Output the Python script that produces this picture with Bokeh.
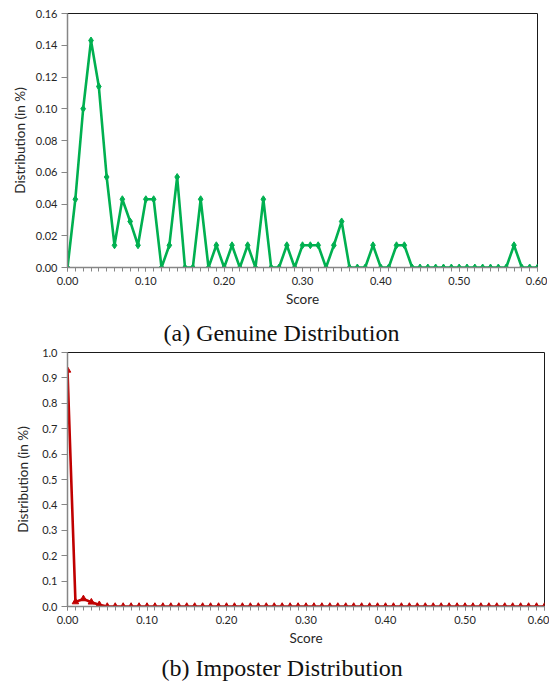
from bokeh.plotting import figure
from bokeh.layouts import column
from bokeh.models import Range1d, FixedTicker, PrintfTickFormatter, Title
from bokeh.embed import file_html
from bokeh.resources import INLINE

# ---- data -------------------------------------------------------------
score = [0.00, 0.01, 0.02, 0.03, 0.04, 0.05, 0.06, 0.07, 0.08, 0.09,
         0.10, 0.11, 0.12, 0.13, 0.14, 0.15, 0.16, 0.17, 0.18, 0.19,
         0.20, 0.21, 0.22, 0.23, 0.24, 0.25, 0.26, 0.27, 0.28, 0.29,
         0.30, 0.31, 0.32, 0.33, 0.34, 0.35, 0.36, 0.37, 0.38, 0.39,
         0.40, 0.41, 0.42, 0.43, 0.44, 0.45, 0.46, 0.47, 0.48, 0.49,
         0.50, 0.51, 0.52, 0.53, 0.54, 0.55, 0.56, 0.57, 0.58, 0.59,
         0.60]

genuine = [0.000, 0.043, 0.100, 0.143, 0.114, 0.057, 0.014, 0.043, 0.029, 0.014,
           0.043, 0.043, 0.000, 0.014, 0.057, 0.000, 0.000, 0.043, 0.000, 0.014,
           0.000, 0.014, 0.000, 0.014, 0.000, 0.043, 0.000, 0.000, 0.014, 0.000,
           0.014, 0.014, 0.014, 0.000, 0.014, 0.029, 0.000, 0.000, 0.000, 0.014,
           0.000, 0.000, 0.014, 0.014, 0.000, 0.000, 0.000, 0.000, 0.000, 0.000,
           0.000, 0.000, 0.000, 0.000, 0.000, 0.000, 0.000, 0.014, 0.000, 0.000,
           0.000]

imposter = [0.930, 0.018, 0.030, 0.017, 0.007, 0.000, 0.000, 0.000, 0.000, 0.000,
            0.000, 0.000, 0.000, 0.000, 0.000, 0.000, 0.000, 0.000, 0.000, 0.000,
            0.000, 0.000, 0.000, 0.000, 0.000, 0.000, 0.000, 0.000, 0.000, 0.000,
            0.000, 0.000, 0.000, 0.000, 0.000, 0.000, 0.000, 0.000, 0.000, 0.000,
            0.000, 0.000, 0.000, 0.000, 0.000, 0.000, 0.000, 0.000, 0.000, 0.000,
            0.000, 0.000, 0.000, 0.000, 0.000, 0.000, 0.000, 0.000, 0.000, 0.000,
            0.000]

x_major = [0.0, 0.1, 0.2, 0.3, 0.4, 0.5, 0.6]
y_ticks_a = [0.00, 0.02, 0.04, 0.06, 0.08, 0.10, 0.12, 0.14, 0.16]
y_ticks_b = [0.0, 0.1, 0.2, 0.3, 0.4, 0.5, 0.6, 0.7, 0.8, 0.9, 1.0]

caption_a = "(a) Genuine Distribution"
caption_b = "(b) Imposter Distribution"

FONT = "Lato"
SERIF = "Liberation Serif"
AXIS_GRAY = "#868686"
TEXT = "#262626"


def make_panel(y, y_ticks, y_max, y_fmt, color, marker, msize,
               left, fw, top, fh, bottom, right, y_lab_standoff):
    p = figure(frame_width=fw, frame_height=fh,
               min_border_left=left, min_border_right=right,
               min_border_top=top, min_border_bottom=bottom,
               x_range=Range1d(0, 0.6), y_range=Range1d(0, y_max),
               output_backend="svg", toolbar_location=None,
               background_fill_color="white", border_fill_color="white")
    p.grid.visible = False
    p.outline_line_color = "#1a1a1a"
    p.outline_line_width = 1

    p.line(score, y, color=color, line_width=2.6)
    p.scatter(score, y, marker=marker, size=msize, color=color)

    xa = p.xaxis[0]
    xa.ticker = FixedTicker(ticks=x_major, minor_ticks=score)
    xa.formatter = PrintfTickFormatter(format="%.2f")
    xa.axis_line_color = AXIS_GRAY
    xa.axis_line_width = 1.5
    xa.major_tick_line_color = AXIS_GRAY
    xa.minor_tick_line_color = AXIS_GRAY
    xa.major_tick_in = 0
    xa.major_tick_out = 4
    xa.minor_tick_in = 0
    xa.minor_tick_out = 4
    xa.major_label_standoff = 5
    xa.major_label_text_font = FONT
    xa.major_label_text_font_size = "11px"
    xa.major_label_text_color = TEXT
    xa.axis_label = "Score"
    xa.axis_label_text_font = FONT
    xa.axis_label_text_font_size = "13.5px"
    xa.axis_label_text_font_style = "normal"
    xa.axis_label_text_color = TEXT
    xa.axis_label_standoff = 3

    ya = p.yaxis[0]
    ya.ticker = FixedTicker(ticks=y_ticks, minor_ticks=[])
    ya.formatter = PrintfTickFormatter(format=y_fmt)
    ya.axis_line_color = AXIS_GRAY
    ya.axis_line_width = 1.5
    ya.major_tick_line_color = AXIS_GRAY
    ya.major_tick_in = 0
    ya.major_tick_out = 6
    ya.minor_tick_in = 0
    ya.minor_tick_out = 0
    ya.major_label_standoff = 4
    ya.major_label_text_font = FONT
    ya.major_label_text_font_size = "11px"
    ya.major_label_text_color = TEXT
    ya.axis_label = "Distribution (in %)"
    ya.axis_label_text_font = FONT
    ya.axis_label_text_font_size = "13.5px"
    ya.axis_label_text_font_style = "normal"
    ya.axis_label_text_color = TEXT
    ya.axis_label_standoff = y_lab_standoff
    return p


def caption(text, offset, standoff):
    return Title(text=text, align="left", offset=offset,
                 standoff=standoff, text_font=SERIF, text_font_size="24px",
                 text_font_style="normal", text_color="#111111")


p1 = make_panel(genuine, y_ticks_a, 0.16, "%.2f", "#00B050", "diamond", 7,
                left=67, fw=470, top=13, fh=254, bottom=41,
                right=10, y_lab_standoff=5)
p2 = make_panel(imposter, y_ticks_b, 1.0, "%.1f", "#C00000", "triangle", 6.5,
                left=62, fw=477, top=43, fh=254, bottom=60,
                right=10, y_lab_standoff=8)

# caption (a) sits between the two panels, caption (b) at the bottom
p2.add_layout(caption(caption_a, 96, 14), "above")
p2.add_layout(caption(caption_b, 94, 8), "below")

layout = column(p1, p2, spacing=0)
open("out.html", "w").write(file_html(layout, INLINE))
